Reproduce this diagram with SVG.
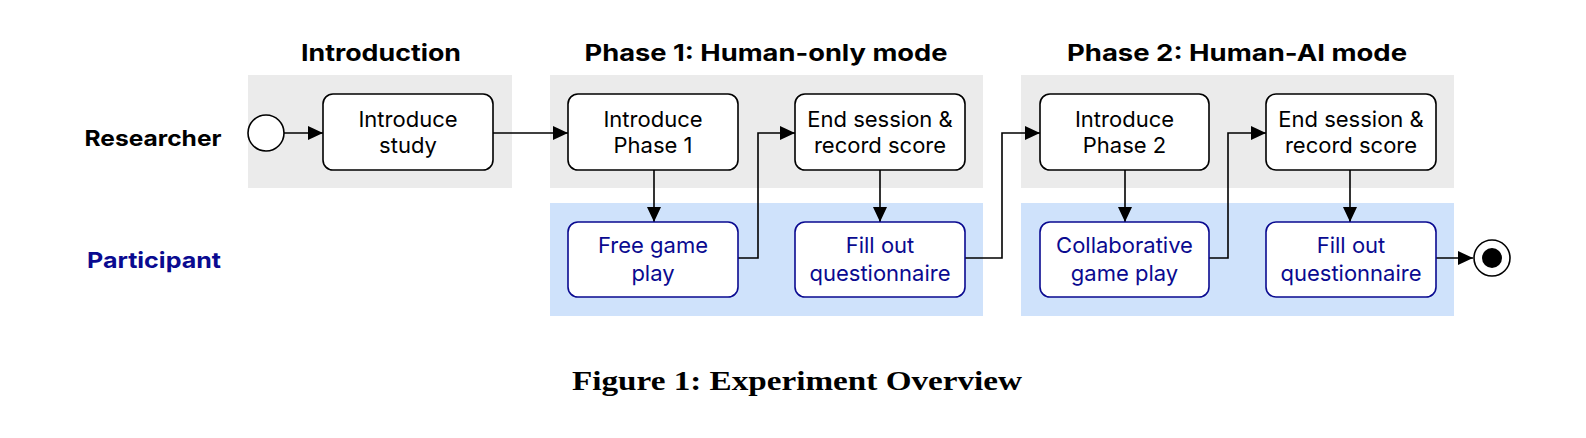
<svg xmlns="http://www.w3.org/2000/svg" width="1586" height="438" viewBox="0 0 1586 438">
  <style>
    .head { font-family: Inter, "Noto Sans", sans-serif; font-weight: 700; font-size: 23px; fill: #000; text-anchor: middle; }
    .lane-r { font-family: Inter, "Noto Sans", sans-serif; font-weight: 700; font-size: 22px; fill: #000; text-anchor: middle; }
    .lane-p { font-family: Inter, "Noto Sans", sans-serif; font-weight: 700; font-size: 22px; fill: #0a0a90; text-anchor: middle; }
    .gray { fill: #ebebeb; }
    .blue { fill: #cfe2fb; }
    .rbox { fill: #fff; stroke: #000; stroke-width: 1.6; }
    .pbox { fill: #fff; stroke: #0a0a90; stroke-width: 1.6; }
    .rtxt { font-family: Inter, "Noto Sans", sans-serif; font-size: 22px; fill: #000; text-anchor: middle; }
    .ptxt { font-family: Inter, "Noto Sans", sans-serif; font-size: 22px; fill: #0a0a90; text-anchor: middle; }
    .conn { fill: none; stroke: #000; stroke-width: 1.6; marker-end: url(#arr); }
    .cap { font-family: "Liberation Serif", serif; font-weight: bold; font-size: 28px; fill: #000; text-anchor: middle; }
  </style>
  <defs>
    <marker id="arr" markerUnits="userSpaceOnUse" markerWidth="15" markerHeight="14" viewBox="0 0 15 14" refX="15" refY="7" orient="auto">
      <path d="M0,0 L15,7 L0,14 Z" fill="#000"/>
    </marker>
  </defs>

  <g id="lanes">
    <rect class="gray" x="248" y="75" width="264" height="113"/>
    <rect class="gray" x="550" y="75" width="433" height="113"/>
    <rect class="gray" x="1021" y="75" width="433" height="113"/>
    <rect class="blue" x="550" y="203" width="433" height="113"/>
    <rect class="blue" x="1021" y="203" width="433" height="113"/>
  </g>

  <g id="headings">
    <text class="head" x="381" y="61" textLength="160" lengthAdjust="spacingAndGlyphs">Introduction</text>
    <text class="head" x="766" y="61" textLength="363" lengthAdjust="spacingAndGlyphs">Phase 1: Human-only mode</text>
    <text class="head" x="1237" y="61" textLength="340" lengthAdjust="spacingAndGlyphs">Phase 2: Human-AI mode</text>
    <text class="lane-r" x="153" y="146" textLength="137" lengthAdjust="spacingAndGlyphs">Researcher</text>
    <text class="lane-p" x="154" y="268" textLength="134" lengthAdjust="spacingAndGlyphs">Participant</text>
  </g>

  <g id="connectors">
    <path class="conn" d="M284,133 H323"/>
    <path class="conn" d="M493,133 H568"/>
    <path class="conn" d="M654,170 V222"/>
    <path class="conn" d="M738,258 H758 V133 H795"/>
    <path class="conn" d="M880,170 V222"/>
    <path class="conn" d="M965,258 H1002 V133 H1040"/>
    <path class="conn" d="M1125,170 V222"/>
    <path class="conn" d="M1209,258 H1228 V133 H1266"/>
    <path class="conn" d="M1350,170 V222"/>
    <path class="conn" d="M1436,258 H1473"/>
  </g>

  <g id="start">
    <circle cx="266" cy="133" r="18" fill="#fff" stroke="#000" stroke-width="1.6"/>
  </g>
  <g id="end">
    <circle cx="1492" cy="258" r="18" fill="#fff" stroke="#000" stroke-width="1.6"/>
    <circle cx="1492" cy="258" r="10" fill="#000"/>
  </g>

  <g id="introduce-study">
    <rect class="rbox" x="323" y="94" width="170" height="76" rx="10"/>
    <text class="rtxt" x="408" y="127">Introduce</text>
    <text class="rtxt" x="408" y="153">study</text>
  </g>
  <g id="introduce-phase1">
    <rect class="rbox" x="568" y="94" width="170" height="76" rx="10"/>
    <text class="rtxt" x="653" y="127">Introduce</text>
    <text class="rtxt" x="653" y="153">Phase 1</text>
  </g>
  <g id="end-session1">
    <rect class="rbox" x="795" y="94" width="170" height="76" rx="10"/>
    <text class="rtxt" x="880" y="127">End session &amp;</text>
    <text class="rtxt" x="880" y="153">record score</text>
  </g>
  <g id="introduce-phase2">
    <rect class="rbox" x="1040" y="94" width="169" height="76" rx="10"/>
    <text class="rtxt" x="1124.5" y="127">Introduce</text>
    <text class="rtxt" x="1124.5" y="153">Phase 2</text>
  </g>
  <g id="end-session2">
    <rect class="rbox" x="1266" y="94" width="170" height="76" rx="10"/>
    <text class="rtxt" x="1351" y="127">End session &amp;</text>
    <text class="rtxt" x="1351" y="153">record score</text>
  </g>

  <g id="free-game-play">
    <rect class="pbox" x="568" y="222" width="170" height="75" rx="10"/>
    <text class="ptxt" x="653" y="253">Free game</text>
    <text class="ptxt" x="653" y="281">play</text>
  </g>
  <g id="fill-out1">
    <rect class="pbox" x="795" y="222" width="170" height="75" rx="10"/>
    <text class="ptxt" x="880" y="253">Fill out</text>
    <text class="ptxt" x="880" y="281">questionnaire</text>
  </g>
  <g id="collaborative">
    <rect class="pbox" x="1040" y="222" width="169" height="75" rx="10"/>
    <text class="ptxt" x="1124.5" y="253">Collaborative</text>
    <text class="ptxt" x="1124.5" y="281">game play</text>
  </g>
  <g id="fill-out2">
    <rect class="pbox" x="1266" y="222" width="170" height="75" rx="10"/>
    <text class="ptxt" x="1351" y="253">Fill out</text>
    <text class="ptxt" x="1351" y="281">questionnaire</text>
  </g>

  <text class="cap" x="797" y="390" textLength="450" lengthAdjust="spacingAndGlyphs">Figure 1: Experiment Overview</text>
</svg>
